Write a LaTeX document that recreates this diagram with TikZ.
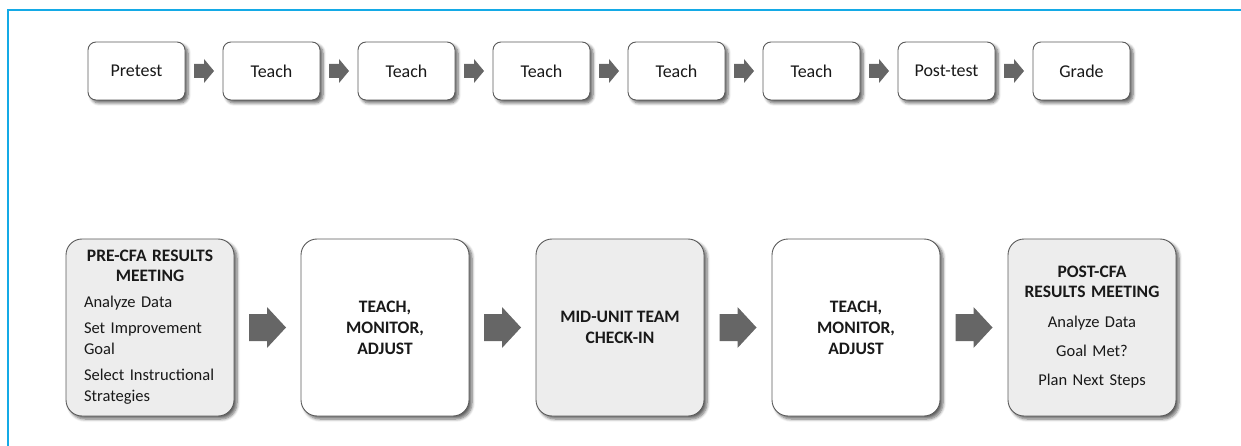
\documentclass[tikz,border=0pt]{standalone}
\usepackage{fontspec}
\setmainfont{Carlito}
\usetikzlibrary{calc,shadows.blur}
\definecolor{framecolor}{RGB}{20,170,230}
\definecolor{edgegray}{RGB}{90,90,90}
\definecolor{softgray}{RGB}{237,237,237}
\definecolor{arrowgray}{RGB}{102,102,102}
\definecolor{inkgray}{RGB}{25,25,25}

\begin{document}
\begin{tikzpicture}[x=1pt,y=-1pt,
  boxshadow/.style={blur shadow={shadow xshift=3pt, shadow yshift=-3pt,
      shadow blur steps=6, shadow blur radius=3pt, shadow opacity=60}},
  stepbox/.style={draw=edgegray, line width=0.9pt, fill=white, rounded corners=8pt,
      minimum width=97pt, minimum height=58pt, inner sep=0pt, text=inkgray,
      font=\fontsize{18}{22}\selectfont, boxshadow},
  phasebox/.style={draw=edgegray, line width=0.9pt, rounded corners=16pt,
      minimum width=168pt, minimum height=177pt, text=inkgray,
      font=\fontsize{16.5}{21}\selectfont, boxshadow},
  headfont/.style={font=\fontsize{17.5}{21}\selectfont\bfseries},
  smallarrow/.pic={\fill[arrowgray] (-10,-7) -- (0,-7) -- (0,-12) -- (10,0)
      -- (0,12) -- (0,7) -- (-10,7) -- cycle;},
  bigarrow/.pic={\fill[arrowgray] (-18.5,-13.5) -- (-0.5,-13.5) -- (-0.5,-20.5)
      -- (18.5,0) -- (-0.5,20.5) -- (-0.5,13.5) -- (-18.5,13.5) -- cycle;}
]
\useasboundingbox (0,0) rectangle (1241,446);

% frame along the top and left edges
\draw[framecolor, line width=2pt] (8,446) -- (8,10) -- (1241,10);

% traditional unit sequence
\foreach \i/\lbl in {0/Pretest,1/Teach,2/Teach,3/Teach,4/Teach,5/Teach,6/Post-test,7/Grade}
  \node[stepbox] (t\i) at (136.5+135*\i,71) {\lbl};
\foreach \i [evaluate=\i as \j using int(\i+1)] in {0,...,6}
  \pic at ($(t\i.east)!0.5!(t\j.west)$) {smallarrow};

% collaborative team cycle
\node[phasebox, fill=softgray, text width=132pt, align=left] (pre) at (150,327.5)
  {{\centering\bfseries\fontsize{17.5}{20}\selectfont PRE-CFA RESULTS\\MEETING\par}%
   \vspace{5pt}Analyze Data\par
   \vspace{5pt}Set Improvement\\Goal\par
   \vspace{5pt}Select Instructional\\Strategies};
\node[phasebox, fill=white, headfont, align=center] (tma) at (385,327.5)
  {TEACH,\\MONITOR,\\ADJUST};
\node[phasebox, fill=softgray, headfont, align=center] (mid) at (620,327.5)
  {MID-UNIT TEAM\\CHECK-IN};
\node[phasebox, fill=white, headfont, align=center] (tmb) at (856,327.5)
  {TEACH,\\MONITOR,\\ADJUST};
\node[phasebox, fill=softgray, text width=150pt, align=center] (post) at (1092,327.5)
  {{\bfseries\fontsize{17.5}{20}\selectfont POST-CFA\\RESULTS MEETING\par}%
   \vspace{9pt}Analyze Data\par
   \vspace{8pt}Goal Met?\par
   \vspace{8pt}Plan Next Steps};

\pic at ($(pre.east)!0.5!(tma.west)$) {bigarrow};
\pic at ($(tma.east)!0.5!(mid.west)$) {bigarrow};
\pic at ($(mid.east)!0.5!(tmb.west)$) {bigarrow};
\pic at ($(tmb.east)!0.5!(post.west)$) {bigarrow};
\end{tikzpicture}
\end{document}
